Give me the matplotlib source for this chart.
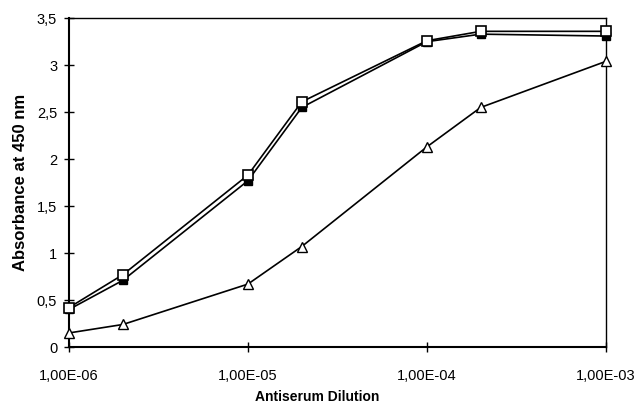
import matplotlib
matplotlib.use('Agg')
import matplotlib.pyplot as plt
from matplotlib.ticker import FixedLocator, FuncFormatter, NullLocator

plt.rcParams['font.family'] = ['Liberation Sans', 'DejaVu Sans']

# dilutions and absorbance readings
dilution = [1e-6, 2e-6, 1e-5, 2e-5, 1e-4, 2e-4, 1e-3]
open_sq = [0.42, 0.77, 1.83, 2.61, 3.26, 3.36, 3.36]
filled_sq = [0.40, 0.71, 1.77, 2.55, 3.25, 3.33, 3.31]
triangle = [0.15, 0.24, 0.67, 1.07, 2.13, 2.55, 3.04]

x_ticks = [1e-6, 1e-5, 1e-4, 1e-3]
x_labels = ['1,00E-06', '1,00E-05', '1,00E-04', '1,00E-03']
y_ticks = [0, 0.5, 1, 1.5, 2, 2.5, 3, 3.5]

fig = plt.figure(figsize=(6.39, 4.04), dpi=100)
ax = fig.add_axes([0.108, 0.141, 0.840, 0.814])

ax.plot(dilution, filled_sq, color='black', lw=1.2, marker='s', ms=6,
        mfc='black', mec='black', zorder=3, clip_on=False)
ax.plot(dilution, open_sq, color='black', lw=1.2, marker='s', ms=7,
        mfc='white', mec='black', mew=1.2, zorder=4, clip_on=False)
ax.plot(dilution, triangle, color='black', lw=1.2, marker='^', ms=7,
        mfc='white', mec='black', mew=1.0, zorder=4, clip_on=False)

ax.set_xscale('log')
ax.set_xlim(1e-6, 1e-3)
ax.set_ylim(0, 3.5)
ax.xaxis.set_major_locator(FixedLocator(x_ticks))
ax.xaxis.set_minor_locator(NullLocator())
ax.set_xticklabels(x_labels)
ax.set_yticks(y_ticks)
ax.yaxis.set_major_formatter(FuncFormatter(lambda v, p: ('%g' % v).replace('.', ',')))

ax.tick_params(direction='inout', length=7, width=1, labelsize=10.5, colors='black')
ax.tick_params(axis='x', pad=12)
ax.tick_params(axis='y', pad=5)
for s in ax.spines.values():
    s.set_linewidth(1)
ax.spines['left'].set_linewidth(1.5)
ax.spines['bottom'].set_linewidth(1.5)

ax.set_xlabel('Antiserum Dilution', fontsize=10, fontweight='bold', labelpad=8)
ax.xaxis.set_label_coords(0.463, -0.13)
ax.set_ylabel('Absorbance at 450 nm', fontsize=12, fontweight='bold', labelpad=6)

fig.savefig('out.png', dpi=100)
